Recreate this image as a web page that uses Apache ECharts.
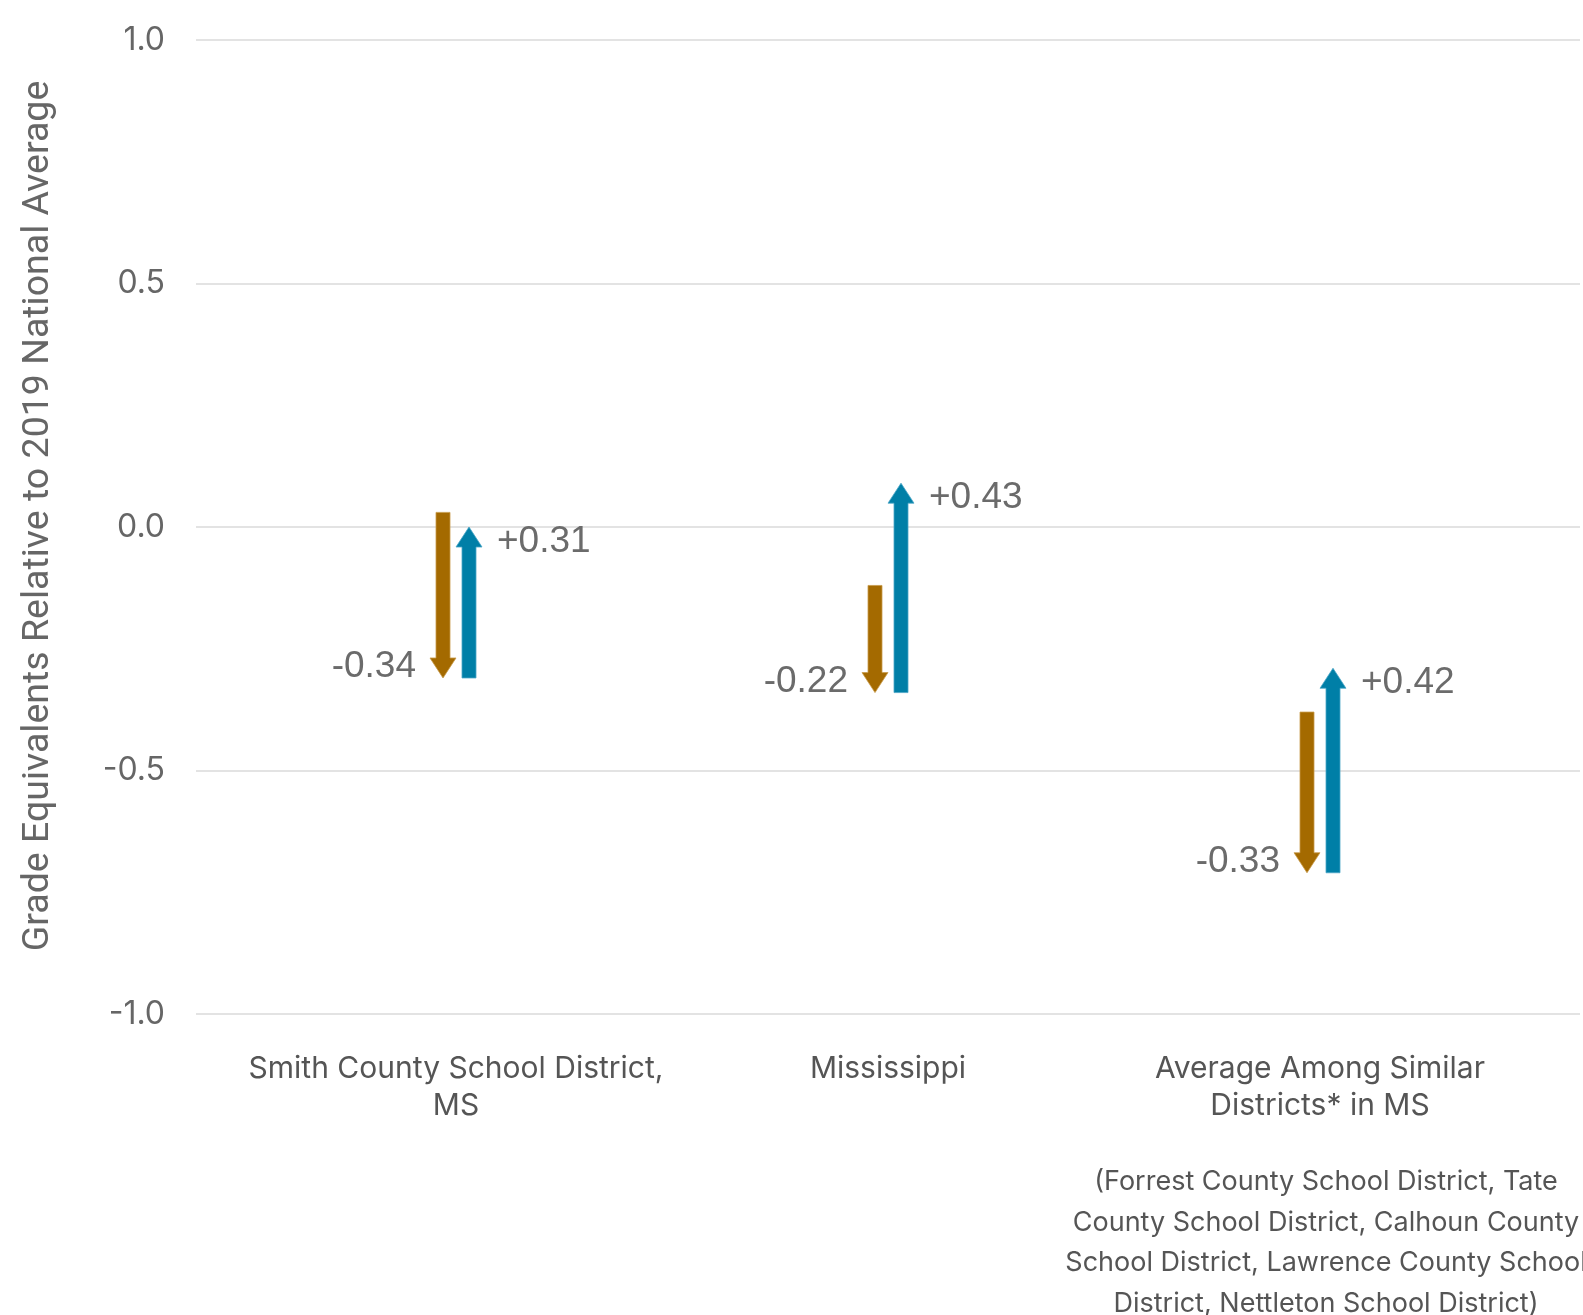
<!DOCTYPE html>
<html>
<head>
<meta charset="utf-8">
<script src="https://cdn.jsdelivr.net/npm/echarts@6/dist/echarts.min.js"></script>
<style>
html,body{margin:0;padding:0;background:#fff;}
#chart{width:1583px;height:1315px;}
</style>
</head>
<body>
<div id="chart"></div>
<script>
const categories = ['Smith County School District,\nMS', 'Mississippi', 'Average Among Similar\nDistricts* in MS'];
const startValues = [0.03, -0.12, -0.38];
const dropValues = [-0.34, -0.22, -0.33];
const recoveryValues = [0.31, 0.43, 0.42];
const yTicks = [-1.0, -0.5, 0.0, 0.5, 1.0];
const yAxisTitle = 'Grade Equivalents Relative to 2019 National Average';
const footnote = '(Forrest County School District, Tate\nCounty School District, Calhoun County\nSchool District, Lawrence County School\nDistrict, Nettleton School District)';

const BROWN = '#A46A00';
const BLUE = '#007FA7';
const LABEL = '#6b6b6b';

const arrowData = categories.map((c, i) => {
  const low = +(startValues[i] + dropValues[i]).toFixed(2);
  const high = +(low + recoveryValues[i]).toFixed(2);
  return [i, startValues[i], low, high, dropValues[i], recoveryValues[i]];
});

function fmt(v) { return (v > 0 ? '+' : '') + v.toFixed(2); }

const chart = echarts.init(document.getElementById('chart'));
chart.setOption({
  animation: false,
  grid: [
    { left: 196, right: 3, top: 40, bottom: 301 },
    { left: 240, right: 47, top: 40, bottom: 301 }
  ],
  xAxis: [
    { gridIndex: 0, type: 'value', min: 0, max: 1, show: false },
    {
      gridIndex: 1, type: 'category', data: categories,
      axisLine: { show: false }, axisTick: { show: false },
      axisLabel: { interval: 0, color: '#555', fontFamily: 'Inter', fontSize: 30, lineHeight: 37, margin: 36 }
    }
  ],
  yAxis: [
    {
      gridIndex: 0, type: 'value', min: yTicks[0], max: yTicks[yTicks.length - 1], interval: 0.5,
      axisLine: { show: false }, axisTick: { show: false },
      axisLabel: { color: '#666', fontFamily: 'Inter', fontSize: 32, margin: 31, padding: [4, 0, 0, 0], formatter: v => v.toFixed(1) },
      splitLine: { lineStyle: { color: '#e3e3e3', width: 2 } }
    },
    { gridIndex: 1, type: 'value', min: yTicks[0], max: yTicks[yTicks.length - 1], show: false, splitLine: { show: false } }
  ],
  series: [{
    type: 'custom',
    xAxisIndex: 1, yAxisIndex: 1,
    data: arrowData,
    renderItem: function (params, api) {
      const i = api.value(0);
      const pStart = api.coord([i, api.value(1)]);
      const pLow = api.coord([i, api.value(2)]);
      const pHigh = api.coord([i, api.value(3)]);
      const cx = pStart[0];
      const sw = 14, hw = 26, hh = 20, off = 13;
      const bx = cx - off, ux = cx + off;
      const yS = pStart[1], yL = pLow[1], yH = pHigh[1];
      const brownPts = [
        [bx - sw / 2, yS], [bx + sw / 2, yS], [bx + sw / 2, yL - hh], [bx + hw / 2, yL - hh],
        [bx, yL], [bx - hw / 2, yL - hh], [bx - sw / 2, yL - hh]
      ];
      const bluePts = [
        [ux - sw / 2, yL], [ux + sw / 2, yL], [ux + sw / 2, yH + hh], [ux + hw / 2, yH + hh],
        [ux, yH], [ux - hw / 2, yH + hh], [ux - sw / 2, yH + hh]
      ];
      const font = '37px "Liberation Sans", Arial, sans-serif';
      return {
        type: 'group',
        children: [
          { type: 'polygon', shape: { points: brownPts }, style: { fill: BROWN, stroke: '#c89a4a', lineWidth: 0.8 } },
          { type: 'polygon', shape: { points: bluePts }, style: { fill: BLUE, stroke: '#4aa6c6', lineWidth: 0.8 } },
          { type: 'text', style: { text: fmt(api.value(4)), x: cx - 40, y: yL - 11, align: 'right', verticalAlign: 'middle', fill: LABEL, font: font } },
          { type: 'text', style: { text: fmt(api.value(5)), x: cx + 41, y: yH + 15, align: 'left', verticalAlign: 'middle', fill: LABEL, font: font } }
        ]
      };
    }
  }],
  graphic: [
    {
      type: 'text', x: 39, y: 516, rotation: Math.PI / 2,
      style: { text: yAxisTitle, fill: '#666', fontFamily: 'Roboto', fontSize: 37.5, align: 'center', verticalAlign: 'middle' }
    },
    {
      type: 'text', x: 1326, y: 1162,
      style: { text: footnote, fill: '#555', fontFamily: 'Inter', fontSize: 27, lineHeight: 40.4, align: 'center', verticalAlign: 'top' }
    }
  ]
});
</script>
</body>
</html>
